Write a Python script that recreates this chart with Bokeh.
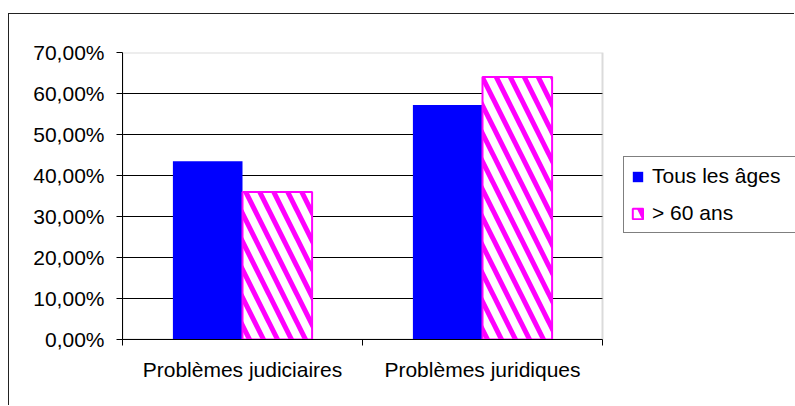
from bokeh.plotting import figure
from bokeh.models import ColumnDataSource, FixedTicker, Range1d, BoxAnnotation
from bokeh.transform import dodge
from bokeh.embed import file_html
from bokeh.resources import INLINE

# ---- data ----
categories = ["Problèmes judiciaires", "Problèmes juridiques"]
series_names = ["Tous les âges", "> 60 ans"]
tous_les_ages = [43.5, 57.2]
plus_60_ans = [36.0, 64.0]
y_ticks = [0, 10, 20, 30, 40, 50, 60, 70]
y_tick_labels = ["0,00%", "10,00%", "20,00%", "30,00%", "40,00%", "50,00%", "60,00%", "70,00%"]

FONT = "Liberation Sans"
FS = "21px"
BW = 0.29

n = len(categories)
centers = [i + 0.5 for i in range(n)]
source = ColumnDataSource(dict(x=centers, tous=tous_les_ages, plus60=plus_60_ans))

# geometry: plot area is 480 px wide; the frame continues to the right edge (673 px)
PLOT_W, FRAME_W = 480, 673
x_end = n * FRAME_W / PLOT_W

p = figure(width=786, height=392,
           x_range=Range1d(0, x_end), y_range=Range1d(y_ticks[0], y_ticks[-1]),
           output_backend="svg", toolbar_location=None,
           min_border_left=113, min_border_right=0,
           min_border_top=38, min_border_bottom=67,
           outline_line_color=None,
           background_fill_color="white", border_fill_color="white")
p.margin = (13, 0, 0, 8)
p.styles = {"border-top": "1px solid #222222", "border-left": "1px solid #222222"}

# plot-area border (grey), beneath the axes
p.add_layout(BoxAnnotation(left=0, right=n, bottom=y_ticks[0], top=y_ticks[-1],
                           fill_alpha=0, line_color="#888888", line_width=2,
                           level="underlay"))

p.vbar(x=dodge("x", -BW / 2), top="tous", width=BW, source=source,
       fill_color="#0000FF", line_color=None, legend_label=series_names[0])
p.vbar(x=dodge("x", BW / 2), top="plus60", width=BW, source=source,
       fill_color="white", line_color="#FF00FF", line_width=2,
       hatch_pattern="left_diagonal_line", hatch_color="#FF00FF",
       hatch_scale=28, hatch_weight=5, legend_label=series_names[1])

# y axis
ya = p.yaxis[0]
ya.ticker = FixedTicker(ticks=y_ticks)
ya.major_label_overrides = dict(zip(y_ticks, y_tick_labels))
ya.major_tick_out = 6
ya.major_tick_in = 0
ya.minor_tick_out = 0
ya.minor_tick_in = 0
ya.major_label_standoff = 12
ya.axis_line_color = "black"
ya.major_tick_line_color = "black"
ya.major_label_text_font = FONT
ya.major_label_text_font_size = FS
ya.major_label_text_color = "black"

# x axis
xa = p.xaxis[0]
xa.bounds = (0, n)
xa.ticker = FixedTicker(ticks=centers, minor_ticks=list(range(n + 1)))
xa.major_label_overrides = dict(zip(centers, categories))
xa.major_tick_out = 0
xa.major_tick_in = 0
xa.minor_tick_out = 6
xa.minor_tick_in = 0
xa.minor_tick_line_color = "black"
xa.major_label_standoff = 12
xa.axis_line_color = "black"
xa.major_label_text_font = FONT
xa.major_label_text_font_size = FS
xa.major_label_text_color = "black"

p.xgrid.visible = False
p.ygrid.grid_line_color = "black"
p.ygrid.grid_line_width = 1
p.ygrid.cross_bounds = (0, n)

lg = p.legend[0]
lg.location = (501, 106)
lg.margin = 0
lg.padding = 7
lg.spacing = 13
lg.glyph_width = 13
lg.glyph_height = 13
lg.label_standoff = 8
lg.label_width = 150
lg.label_text_font = FONT
lg.label_text_font_size = FS
lg.label_text_color = "black"
lg.border_line_color = "black"
lg.border_line_width = 1
lg.background_fill_color = "white"
lg.background_fill_alpha = 1

open("out.html", "w").write(file_html(p, INLINE))
